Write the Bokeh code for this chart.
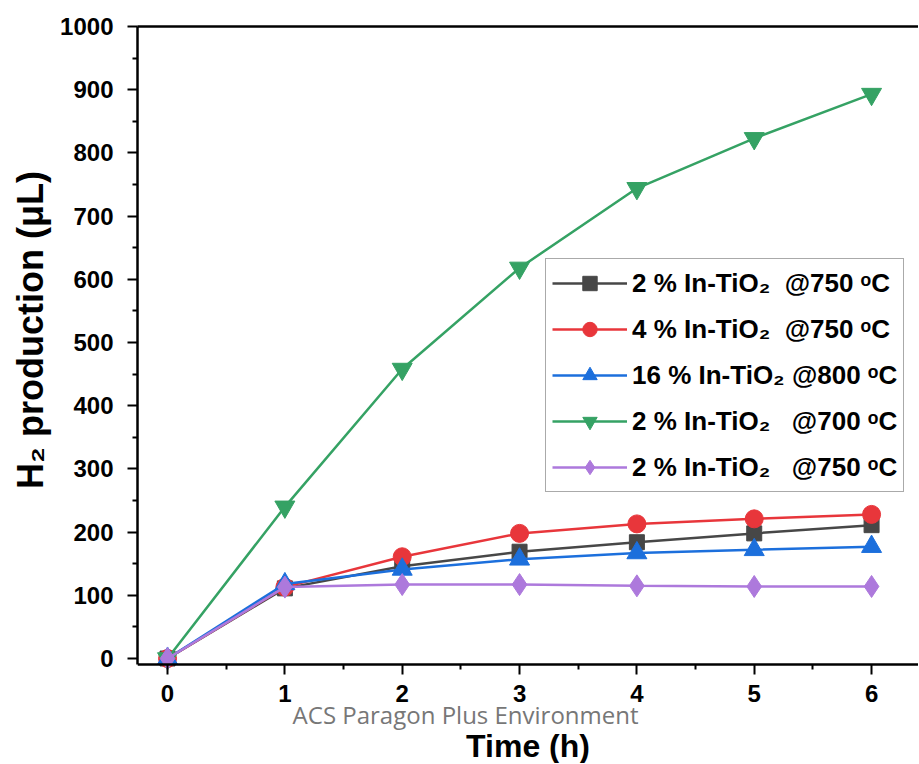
from bokeh.plotting import figure
from bokeh.models import (Range1d, FixedTicker, LinearAxis, Legend, LegendItem, Label)
from bokeh.embed import file_html
from bokeh.resources import INLINE

# ---- data ----
time_h = [0, 1, 2, 3, 4, 5, 6]
s_2pct_750 = [0, 111, 146, 169, 184, 198, 211]
s_4pct_750 = [0, 113, 161, 198, 213, 221, 228]
s_16pct_800 = [0, 118, 141, 157, 167, 172, 177]
s_2pct_700 = [0, 240, 458, 618, 744, 823, 893]
s_2pct_750b = [0, 113, 117, 117, 115, 114, 114]

NB = "\u00a0"
labels = [
    "2 % In-TiO\u2082" + NB * 2 + "@750 \u1d52C",
    "4 % In-TiO\u2082" + NB * 2 + "@750 \u1d52C",
    "16 % In-TiO\u2082 @800 \u1d52C",
    "2 % In-TiO\u2082" + NB * 3 + "@700 \u1d52C",
    "2 % In-TiO\u2082" + NB * 3 + "@750 \u1d52C",
]
series = [s_2pct_750, s_4pct_750, s_16pct_800, s_2pct_700, s_2pct_750b]
colors = ["#474747", "#e8363b", "#1c6fdc", "#35a264", "#ad79dc"]
markers = ["square", "circle", "triangle", "inverted_triangle", "diamond"]
msizes = [15, 18, 20, 20, 22]

x_ticks = [0, 1, 2, 3, 4, 5, 6]
x_minor = [0.5, 1.5, 2.5, 3.5, 4.5, 5.5]
y_ticks = [0, 100, 200, 300, 400, 500, 600, 700, 800, 900, 1000]
y_minor = [50, 150, 250, 350, 450, 550, 650, 750, 850, 950]
Y_LOW, Y_HIGH = -9.5, 1000
WATERMARK = "ACS Paragon Plus Environment"

FONT = "Liberation Sans"

# frame extends to the bottom of the canvas; the x axis is pinned at Y_LOW
p = figure(width=918, height=763, output_backend="svg", toolbar_location=None,
           x_range=Range1d(-0.256, 6.40), y_range=Range1d(-166.1, Y_HIGH),
           min_border_left=137, min_border_right=0, min_border_top=26,
           min_border_bottom=0)
p.grid.visible = False
p.outline_line_color = None
p.background_fill_color = "white"
p.border_fill_color = "white"

items = []
for ys, c, m, ms, lab in zip(series, colors, markers, msizes, labels):
    r1 = p.line(time_h, ys, line_color=c, line_width=2.5)
    r2 = p.scatter(time_h, ys, marker=m, size=ms, fill_color=c, line_color=c)
    items.append(LegendItem(label=lab, renderers=[r1, r2]))

for ax in (p.xaxis[0], p.yaxis[0]):
    ax.axis_line_width = 2.5
    ax.axis_line_color = "black"
    ax.major_tick_line_width = 2
    ax.minor_tick_line_width = 2
    ax.major_tick_in = 0
    ax.major_tick_out = 10
    ax.minor_tick_in = 0
    ax.minor_tick_out = 5
    ax.major_label_text_font = FONT
    ax.major_label_text_font_style = "bold"
    ax.major_label_text_color = "black"
    ax.axis_label_text_font = FONT
    ax.axis_label_text_font_style = "bold"
    ax.axis_label_text_color = "black"

xa = p.xaxis[0]
ya = p.yaxis[0]
xa.fixed_location = Y_LOW
ya.bounds = (Y_LOW, Y_HIGH)
xa.major_label_text_font_size = "24px"
ya.major_label_text_font_size = "24px"
xa.axis_label_text_font_size = "32px"
ya.axis_label_text_font_size = "36px"
xa.ticker = FixedTicker(ticks=x_ticks, minor_ticks=x_minor)
ya.ticker = FixedTicker(ticks=y_ticks, minor_ticks=y_minor)
xa.axis_label = "Time (h)"
# leading no-break spaces lift the centred title to the middle of the 0-1000 span
ya.axis_label = NB * 13 + "H\u2082 production (\u03bcL)"
xa.major_label_standoff = 10
ya.major_label_standoff = 14
xa.axis_label_standoff = 23
ya.axis_label_standoff = 6

top = LinearAxis(ticker=FixedTicker(ticks=[]), major_label_text_font_size="0px",
                 major_tick_line_color=None, minor_tick_line_color=None,
                 axis_line_width=2.5, axis_line_color="black")
p.add_layout(top, "above")

legend = Legend(items=items, location=(408, 271),
                label_text_font=FONT, label_text_font_style="bold",
                label_text_font_size="26px", label_text_color="black",
                glyph_width=75, glyph_height=36, label_height=36,
                spacing=10, padding=6, margin=0, label_standoff=5,
                border_line_color="#555555", border_line_width=1.5,
                background_fill_alpha=1.0)
p.add_layout(legend, "center")

wm = Label(x=2.54, y=-89, x_units="data", y_units="data",
           text=WATERMARK, text_font="Open Sans",
           text_font_size="24px", text_color="#777777", text_align="center",
           text_baseline="alphabetic", level="overlay")
p.add_layout(wm)

open("out.html", "w").write(file_html(p, INLINE))
